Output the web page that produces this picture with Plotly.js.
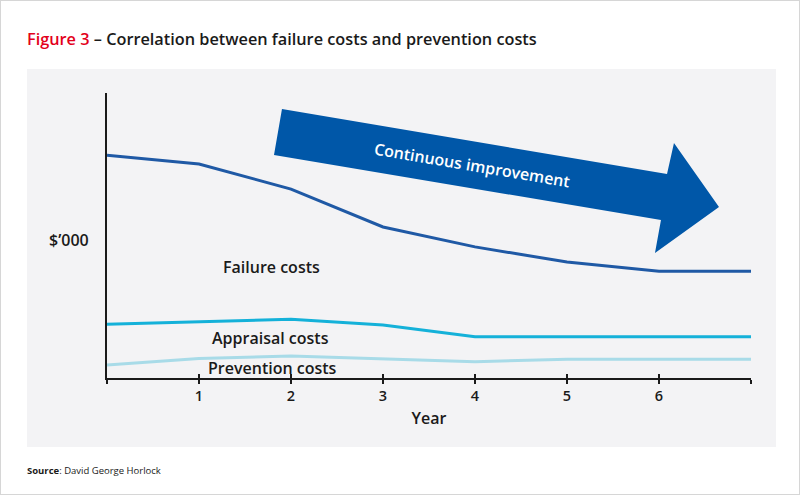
<!DOCTYPE html>
<html>
<head>
<meta charset="utf-8">
<script src="https://cdn.plot.ly/plotly-3.0.1.min.js"></script>
<style>
html,body{margin:0;padding:0;background:#fff;}
#frame{position:absolute;left:0;top:0;width:798px;height:493px;border:1px solid #d6d6d6;}
#chart{position:absolute;left:0;top:0;width:800px;height:495px;}
</style>
</head>
<body>
<div id="frame"></div>
<div id="chart"></div>
<script>
// ---- data ----
var years = [0, 1, 2, 3, 4, 5, 6, 7];
var tickLabels = ['', '1', '2', '3', '4', '5', '6', ''];
var failureCosts = [78.2, 75.1, 66.3, 53.0, 46.0, 40.7, 37.5, 37.5];
var appraisalCosts = [18.9, 19.8, 20.6, 18.6, 14.5, 14.5, 14.5, 14.5];
var preventionCosts = [4.6, 6.8, 7.7, 6.6, 5.7, 6.6, 6.6, 6.6];
var seriesNames = ['Failure costs', 'Appraisal costs', 'Prevention costs'];

// ---- layout geometry (pixels) ----
var W = 800, H = 495;
var M = {l: 107, r: 49, t: 93, b: 117};
var PW = W - M.l - M.r, PH = H - M.t - M.b;
function px(x) { return (x - M.l) / PW; }
function py(y) { return (H - M.b - y) / PH; }

var arrowPx = [[282,109],[667,174],[674,143],[719,207],[655,253],[661,220],[274,155]];
var arrowPath = arrowPx.map(function (p, i) {
  return (i === 0 ? 'M ' : 'L ') + px(p[0]).toFixed(4) + ' ' + py(p[1]).toFixed(4);
}).join(' ') + ' Z';

var fontMain = 'Open Sans, Noto Sans, sans-serif';
var txt = '#1a1a1a';

var traces = [
  {x: years, y: failureCosts, name: seriesNames[0], mode: 'lines', line: {color: '#1f59a5', width: 3}},
  {x: years, y: appraisalCosts, name: seriesNames[1], mode: 'lines', line: {color: '#14b1d9', width: 3}},
  {x: years, y: preventionCosts, name: seriesNames[2], mode: 'lines', line: {color: '#a8dbe8', width: 3}},
  {x: years, y: failureCosts, xaxis: 'x2', mode: 'lines', line: {width: 0}, hoverinfo: 'skip', showlegend: false, opacity: 0}
];

var layout = {
  width: W, height: H,
  margin: M,
  paper_bgcolor: 'rgba(0,0,0,0)',
  plot_bgcolor: 'rgba(0,0,0,0)',
  showlegend: false,
  font: {family: fontMain, color: txt},
  xaxis: {
    range: [0, 7], tickvals: years, ticktext: tickLabels,
    showgrid: false, zeroline: false, showline: true, linecolor: '#1a1a1a', linewidth: 2,
    ticks: 'outside', ticklen: 4, tickwidth: 2, tickcolor: '#1a1a1a',
    tickfont: {size: 14.5, color: txt, family: fontMain, weight: 600},
    title: {text: 'Year', font: {size: 16, color: txt, family: fontMain, weight: 600}, standoff: 8},
    fixedrange: true
  },
  xaxis2: {
    overlaying: 'x', range: [0, 7], tickvals: years, showticklabels: false,
    showgrid: false, zeroline: false, showline: false,
    ticks: 'inside', ticklen: 4, tickwidth: 2, tickcolor: '#1a1a1a', side: 'bottom'
  },
  yaxis: {
    range: [0, 100], showgrid: false, zeroline: false, showline: true,
    linecolor: '#1a1a1a', linewidth: 2, showticklabels: false, ticks: '', fixedrange: true
  },
  shapes: [
    {type: 'rect', xref: 'paper', yref: 'paper', layer: 'below',
     x0: px(27), x1: px(776), y0: py(447), y1: py(69),
     fillcolor: '#f3f3f5', line: {width: 0}},
    {type: 'path', xref: 'paper', yref: 'paper', path: arrowPath,
     fillcolor: '#0057a8', line: {width: 0}}
  ],
  annotations: [
    {xref: 'paper', yref: 'paper', x: px(25), y: py(39), xanchor: 'left', yanchor: 'middle', showarrow: false,
     text: '<span style="color:#e3001b">Figure 3</span> – Correlation between failure costs and prevention costs',
     font: {size: 16.3, color: txt, family: fontMain, weight: 600}},
    {xref: 'paper', yref: 'paper', x: px(47), y: py(240), xanchor: 'left', yanchor: 'middle', showarrow: false,
     text: '$’000', font: {size: 16, color: txt, family: fontMain, weight: 600}},
    {xref: 'paper', yref: 'paper', x: px(221), y: py(267), xanchor: 'left', yanchor: 'middle', showarrow: false,
     text: seriesNames[0], font: {size: 16, color: txt, family: fontMain, weight: 600}},
    {xref: 'paper', yref: 'paper', x: px(210), y: py(338), xanchor: 'left', yanchor: 'middle', showarrow: false,
     text: seriesNames[1], font: {size: 16, color: txt, family: fontMain, weight: 600}},
    {xref: 'paper', yref: 'paper', x: px(206), y: py(368), xanchor: 'left', yanchor: 'middle', showarrow: false,
     text: seriesNames[2], font: {size: 16, color: txt, family: fontMain, weight: 600}},
    {xref: 'paper', yref: 'paper', x: px(472), y: py(165), xanchor: 'center', yanchor: 'middle', showarrow: false,
     textangle: 9.6, text: 'Continuous improvement', font: {size: 16, color: '#ffffff', family: fontMain, weight: 600}},
    {xref: 'paper', yref: 'paper', x: px(25), y: py(470), xanchor: 'left', yanchor: 'middle', showarrow: false,
     text: '<b>Source</b>: David George Horlock', font: {size: 9.5, color: txt, family: fontMain}}
  ]
};

Plotly.newPlot('chart', traces, layout, {displayModeBar: false, staticPlot: true});
</script>
</body>
</html>
